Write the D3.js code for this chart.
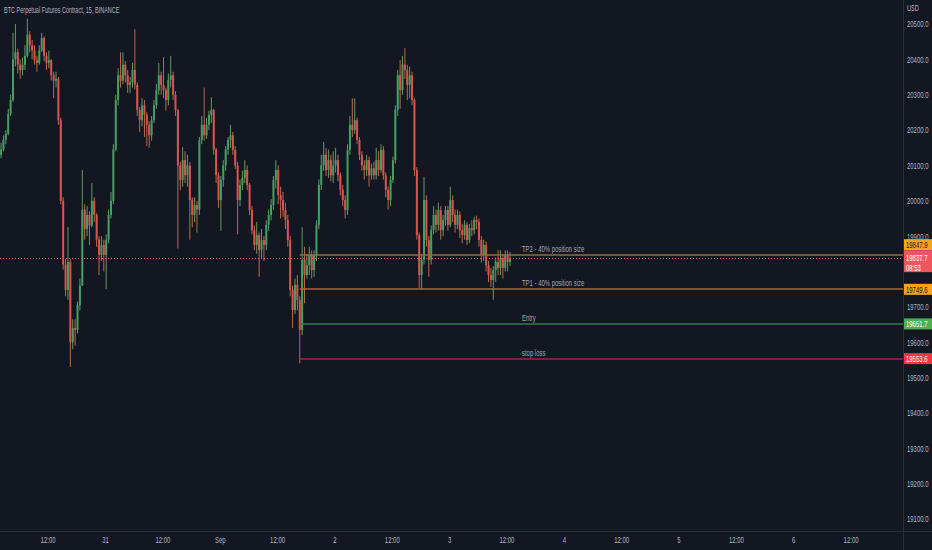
<!DOCTYPE html>
<html lang="en">

<head>
    <meta charset="UTF-8">
    <title>BTC Perpetual Futures Contract, 15, BINANCE</title>
    <script src="https://cdn.jsdelivr.net/npm/d3@7"></script>
    <style>
        html, body { margin: 0; padding: 0; background: #131722; overflow: hidden; }
        text { font-family: "Liberation Sans", Arial, sans-serif; }
    </style>
</head>

<body>
    <div id="container"></div>
</body>
<script>

    // 30-min candles from Aug 30 02:00 (prices)
    const firstOpen = 20130;
    const closes = [
        20145, 20172, 20190, 20245, 20285, 20400, 20420, 20385, 20370, 20385,
        20410, 20470, 20440, 20425, 20398, 20390, 20425, 20460, 20410, 20390,
        20398, 20355, 20340, 20345, 20228, 20000, 19820, 19748, 19827, 19600,
        19640, 19635, 19705, 19760, 19975, 19920, 19960, 19930, 20000, 19960,
        19890, 19847, 19875, 19847, 19890, 19960, 20000, 20145, 20285, 20355,
        20340, 20385, 20355, 20328, 20335, 20370, 20328, 20257, 20228, 20270,
        20243, 20215, 20185, 20228, 20270, 20313, 20355, 20328, 20313, 20285,
        20342, 20355, 20300, 20257, 20100, 20059, 20115, 20072, 20100, 20002,
        19960, 19988, 19975, 20172, 20215, 20185, 20215, 20243, 20257, 20145,
        20072, 20002, 20059, 20100, 20145, 20172, 20185, 20144, 20100, 20002,
        20045, 20065, 20087, 20045, 19974, 19917, 19875, 19903, 19861, 19889,
        19875, 19932, 19960, 19988, 20059, 20087, 20016, 20002, 19974, 19946,
        19889, 19748, 19691, 19762, 19719, 19635, 19833, 19790, 19818, 19847,
        19804, 19847, 19932, 20045, 20100, 20130, 20087, 20115, 20072, 20100,
        20115, 20072, 20031, 20002, 19974, 20144, 20215, 20200, 20228, 20172,
        20130, 20100, 20087, 20115, 20072, 20092, 20072, 20115, 20087, 20144,
        20072, 20031, 20002, 20059, 20115, 20257, 20355, 20313, 20385, 20370,
        20328, 20355, 20285, 20087, 19903, 19790, 19833, 20002, 19889, 19833,
        19917, 19960, 19932, 19974, 19917, 19946, 19974, 19932, 20002, 19960,
        19932, 19960, 19917, 19903, 19932, 19889, 19923, 19917, 19946, 19940,
        19889, 19847, 19875, 19818, 19790, 19776, 19804, 19827, 19810, 19838,
        19810, 19847, 19827, 19837.7
    ];
    const highs = [
        20165, 20185, 20200, 20260, 20300, 20475, 20500, 20430, 20400, 20405,
        20440, 20515, 20480, 20455, 20440, 20410, 20440, 20475, 20465, 20420,
        20425, 20400, 20365, 20365, 20350, 20235, 20010, 19835, 19926, 19835,
        19665, 19665, 19715, 19780, 20087, 19990, 19985, 19970, 20050, 20010,
        19965, 19900, 19900, 19890, 19905, 19975, 20025, 20160, 20300, 20375,
        20420, 20420, 20395, 20370, 20350, 20390, 20485, 20335, 20265, 20290,
        20285, 20250, 20225, 20240, 20285, 20330, 20390, 20365, 20407, 20320,
        20360, 20410, 20365, 20310, 20260, 20110, 20152, 20140, 20130, 20110,
        20010, 20010, 20000, 20180, 20240, 20320, 20235, 20255, 20293, 20260,
        20150, 20080, 20070, 20115, 20155, 20180, 20215, 20195, 20155, 20110,
        20060, 20085, 20115, 20100, 20050, 19985, 19930, 19940, 19910, 19920,
        19900, 19945, 19975, 20005, 20070, 20115, 20100, 20040, 20025, 19995,
        19960, 19900, 19760, 19780, 19790, 19730, 19925, 19870, 19850, 19870,
        19860, 19860, 19945, 20060, 20130, 20166, 20150, 20145, 20130, 20140,
        20150, 20130, 20080, 20045, 20015, 20160, 20240, 20290, 20290, 20235,
        20180, 20140, 20115, 20130, 20125, 20105, 20110, 20150, 20140, 20160,
        20155, 20080, 20040, 20070, 20125, 20270, 20370, 20398, 20410, 20432,
        20385, 20380, 20365, 20290, 20095, 19910, 19850, 20067, 20015, 19900,
        19930, 19985, 19975, 19995, 19985, 19960, 19985, 19985, 20040, 20015,
        19975, 19975, 19970, 19935, 19945, 19940, 19935, 19945, 19955, 19958,
        19950, 19900, 19890, 19885, 19830, 19810, 19815, 19840, 19861, 19860,
        19850, 19860, 19860, 19855
    ];
    const lows = [
        20120, 20140, 20160, 20185, 20240, 20280, 20380, 20360, 20345, 20355,
        20370, 20405, 20420, 20400, 20385, 20365, 20385, 20420, 20395, 20370,
        20375, 20340, 20290, 20320, 20215, 19990, 19805, 19730, 19720, 19530,
        19580, 19590, 19625, 19690, 19760, 19890, 19900, 19875, 19925, 19940,
        19870, 19790, 19830, 19800, 19750, 19880, 19950, 19990, 20140, 20270,
        20320, 20330, 20335, 20305, 20305, 20320, 20315, 20240, 20195, 20210,
        20180, 20155, 20150, 20170, 20220, 20260, 20300, 20300, 20290, 20255,
        20270, 20320, 20285, 20240, 19865, 20030, 20040, 20050, 20040, 19890,
        19925, 19940, 19910, 19960, 20160, 20170, 20175, 20200, 20220, 20130,
        20050, 19980, 19915, 20040, 20085, 20130, 20150, 20130, 20090, 19905,
        19985, 20030, 20050, 20030, 19960, 19905, 19860, 19850, 19785, 19835,
        19830, 19860, 19915, 19945, 19975, 20035, 19990, 19950, 19955, 19920,
        19870, 19730, 19640, 19680, 19690, 19540, 19620, 19710, 19780, 19790,
        19780, 19785, 19830, 19920, 20030, 20085, 20070, 20065, 20055, 20050,
        20080, 20055, 20015, 19985, 19950, 19960, 20130, 20180, 20190, 20160,
        20115, 20085, 20060, 20070, 20040, 20060, 20060, 20060, 20070, 20080,
        20060, 20010, 19975, 19985, 20050, 20105, 20240, 20260, 20300, 20345,
        20285, 20290, 20270, 20070, 19890, 19753, 19750, 19820, 19870, 19785,
        19820, 19905, 19910, 19915, 19890, 19900, 19930, 19915, 19925, 19940,
        19910, 19920, 19895, 19880, 19890, 19875, 19880, 19900, 19905, 19920,
        19870, 19825, 19830, 19800, 19770, 19756, 19720, 19770, 19790, 19790,
        19780, 19800, 19800, 19815
    ];

    // 19800.0 sits under the last-price tag in the reference, so it is not shown
    const yTicks = [19100, 19200, 19300, 19400, 19500, 19600, 19700, 19900,
        20000, 20100, 20200, 20300, 20400, 20500];
    const levelNames = ["TP2 - 40% position size", "TP1 - 40% position size", "Entry", "stop loss"];
    const levelPrices = [19847.9, 19749.6, 19651.7, 19553.6];
    const levelStart = new Date(2022, 8, 1, 16, 45);
    const labelTime = new Date(2022, 8, 3, 15, 15);
    const lastPrice = 19837.7;
    const countdown = "08:53";

    const W = 932, H = 550;
    const plotRight = 903, plotBottom = 531;
    const fs = 9;          // font size
    const squeeze = 0.66;  // the reference lettering is narrow

    const svg = d3.create("svg")
        .attr("width", W)
        .attr("height", H)
        .style("display", "block")
        .style("background", "#131722");
    d3.select("#container").node().append(svg.node());

    const x = d3.scaleTime()
        .domain([new Date(2022, 7, 30), new Date(2022, 8, 7)])
        .range([-9.7, -9.7 + 8 * 114.7]);
    const y = d3.scaleLinear()
        .domain([19100, 20500])
        .range([519, 24]);

    const t0 = new Date(2022, 7, 30, 2, 0);
    const candles = closes.map((c, i) => ({
        t: d3.timeMinute.offset(t0, i * 30 + 15),
        o: i === 0 ? firstOpen : closes[i - 1],
        h: highs[i], l: lows[i], c: c
    }));

    const up = "#43a05f", down = "#dc534e";
    const upWick = "#6aa86a", downWick = "#d0704f";

    const plot = svg.append("g");

    // wicks
    plot.selectAll("line.wick")
        .data(candles)
        .enter()
        .append("line")
        .attr("class", "wick")
        .attr("x1", d => x(d.t)).attr("x2", d => x(d.t))
        .attr("y1", d => y(d.h)).attr("y2", d => y(d.l))
        .attr("stroke", d => d.c >= d.o ? upWick : downWick)
        .attr("stroke-width", 0.9);

    // bodies
    plot.selectAll("rect.body")
        .data(candles)
        .enter()
        .append("rect")
        .attr("class", "body")
        .attr("x", d => x(d.t) - 1)
        .attr("width", 2)
        .attr("y", d => y(Math.max(d.o, d.c)))
        .attr("height", d => Math.max(0.8, Math.abs(y(d.o) - y(d.c))))
        .attr("fill", d => d.c >= d.o ? up : down);

    // trade levels
    const levelColors = ["#8f6e36", "#b06a28", "#337a49", "#962b45"];
    levelPrices.forEach((p, i) => {
        const ly = Math.round(y(p));
        svg.append("line")
            .attr("x1", x(levelStart)).attr("x2", plotRight)
            .attr("y1", ly).attr("y2", ly)
            .attr("stroke", levelColors[i])
            .attr("stroke-width", 1.5);
        svg.append("text")
            .attr("x", x(labelTime))
            .attr("y", ly - 3.5)
            .attr("fill", "#a3a6af")
            .attr("font-size", fs)
            .text(levelNames[i]);
    });

    // last price dotted line
    svg.append("line")
        .attr("x1", 0).attr("x2", plotRight)
        .attr("y1", Math.round(y(lastPrice)) + 0.5).attr("y2", Math.round(y(lastPrice)) + 0.5)
        .attr("stroke", "#e0535a")
        .attr("stroke-dasharray", "1 2");

    // axis borders
    svg.append("line")
        .attr("x1", plotRight + 0.5).attr("x2", plotRight + 0.5)
        .attr("y1", 0).attr("y2", H)
        .attr("stroke", "#2a2e39");
    svg.append("line")
        .attr("x1", 0).attr("x2", W)
        .attr("y1", plotBottom + 0.5).attr("y2", plotBottom + 0.5)
        .attr("stroke", "#2a2e39");

    // price axis
    const yAxis = d3.axisRight(y)
        .tickValues(yTicks)
        .tickSize(0)
        .tickPadding(0)
        .tickFormat(d3.format(".1f"));
    const gy = svg.append("g")
        .attr("transform", `translate(${plotRight + 4},0)`)
        .call(yAxis);
    gy.select(".domain").remove();
    gy.selectAll("text").attr("fill", "#b2b5be").attr("font-size", fs)
        .style("font-family", "\"Liberation Sans\", sans-serif");

    // time axis
    const xTicks = d3.timeHour.every(12).range(new Date(2022, 7, 30, 12), new Date(2022, 8, 7));
    const xFmt = d => d.getHours() === 12 ? "12:00"
        : (d.getDate() === 1 ? d3.timeFormat("%b")(d) : String(d.getDate()));
    const xAxis = d3.axisBottom(x)
        .tickValues(xTicks.filter(d => x(d) > 20 && x(d) < 880))
        .tickSize(0)
        .tickPadding(6)
        .tickFormat(xFmt);
    const gx = svg.append("g")
        .attr("transform", `translate(0,${plotBottom})`)
        .call(xAxis);
    gx.select(".domain").remove();
    gx.selectAll("text").attr("fill", "#b2b5be").attr("font-size", fs)
        .style("font-family", "\"Liberation Sans\", sans-serif");

    // price tags on the axis
    const tagW = W - plotRight - 1;
    const lastY = y(lastPrice);
    const tags = [
        { p: levelPrices[0], fill: "#f7a21b", ink: "#131722", cy: lastY - 13.5 }, // pushed up above last price
        { p: levelPrices[1], fill: "#f7a21b", ink: "#131722", cy: y(levelPrices[1]) },
        { p: levelPrices[2], fill: "#4caf50", ink: "#ffffff", cy: y(levelPrices[2]) },
        { p: levelPrices[3], fill: "#f23645", ink: "#ffffff", cy: y(levelPrices[3]) }
    ];
    tags.forEach(tg => {
        svg.append("rect")
            .attr("x", plotRight + 1).attr("y", tg.cy - 5.5)
            .attr("width", tagW).attr("height", 11)
            .attr("fill", tg.fill);
        svg.append("text")
            .attr("x", plotRight + 3).attr("y", tg.cy + 3.2)
            .attr("fill", tg.ink).attr("font-size", fs)
            .text(d3.format(".1f")(tg.p));
    });
    svg.append("rect")
        .attr("x", plotRight + 1).attr("y", lastY - 8)
        .attr("width", tagW).attr("height", 22)
        .attr("fill", "#f0555e");
    svg.append("text")
        .attr("x", plotRight + 3).attr("y", lastY + 3)
        .attr("fill", "#ffffff").attr("font-size", fs)
        .text(d3.format(".1f")(lastPrice));
    svg.append("text")
        .attr("x", plotRight + 3).attr("y", lastY + 12.5)
        .attr("fill", "#ffffff").attr("font-size", fs)
        .text(countdown);

    // header
    svg.append("text")
        .attr("class", "title")
        .attr("x", 4).attr("y", 13)
        .attr("fill", "#b2b5be").attr("font-size", fs + 0.5)
        .text("BTC Perpetual Futures Contract, 15, BINANCE");
    svg.append("text")
        .attr("x", plotRight + 4).attr("y", 11)
        .attr("fill", "#b2b5be").attr("font-size", fs - 0.5)
        .text("USD");

    // narrow every text the same way the reference lettering is narrowed
    svg.selectAll("text").each(function () {
        const k = this.classList.contains("title") ? 0.58 : squeeze;
        d3.select(this)
            .attr("textLength", this.getComputedTextLength() * k)
            .attr("lengthAdjust", "spacingAndGlyphs");
    });

</script>

</html>
